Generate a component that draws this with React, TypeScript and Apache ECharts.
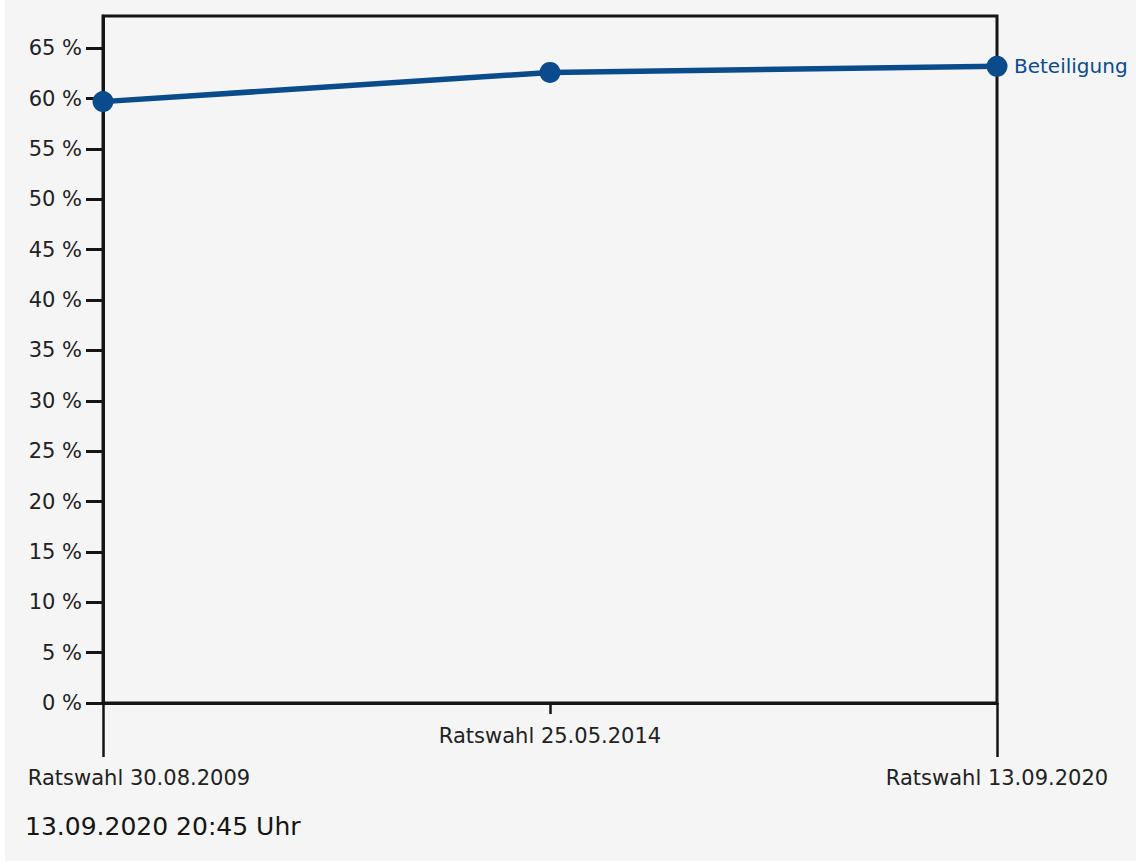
import React, { useEffect, useRef } from "react";
import * as echarts from "echarts";

const categories = ["Ratswahl 30.08.2009", "Ratswahl 25.05.2014", "Ratswahl 13.09.2020"];
const seriesName = "Beteiligung";
const turnout = [59.7, 62.6, 63.2];
const yTicks = [0, 5, 10, 15, 20, 25, 30, 35, 40, 45, 50, 55, 60, 65];
const footer = "13.09.2020 20:45 Uhr";

const FONT = "DejaVu Sans";
const BLUE = "#0a4b8c";

export default function App() {
  const ref = useRef<HTMLDivElement>(null);
  useEffect(() => {
    const chart = echarts.init(ref.current!, null, { renderer: "svg" });
    chart.setOption({
      animation: false,
      backgroundColor: "#ffffff",
      graphic: [
        {
          type: "rect",
          z: -10,
          silent: true,
          shape: { x: 5, y: 0, width: 1131, height: 861 },
          style: { fill: "#f5f5f5" },
        },
        {
          type: "text",
          left: 25,
          top: 814,
          style: { text: footer, fontFamily: FONT, fontSize: 25, fill: "#151515" },
        },
      ],
      grid: {
        left: 103,
        right: 139,
        top: 16,
        bottom: 163,
        show: true,
        borderColor: "#151515",
        borderWidth: 3,
        backgroundColor: "transparent",
      },
      xAxis: [
        {
          type: "category",
          data: categories,
          boundaryGap: false,
          axisLine: { show: true, lineStyle: { color: "#151515", width: 3 } },
          axisTick: {
            show: true,
            length: 11,
            lineStyle: { color: "#151515", width: 2.5 },
            interval: (i: number) => i === 1,
          },
          axisLabel: {
            interval: (i: number) => i === 1,
            margin: 22,
            fontFamily: FONT,
            fontSize: 21,
            color: "#222",
          },
        },
        {
          type: "category",
          data: categories,
          boundaryGap: false,
          position: "bottom",
          axisLine: { show: false },
          axisTick: {
            show: true,
            length: 54,
            lineStyle: { color: "#151515", width: 2.5 },
            interval: (i: number) => i !== 1,
          },
          axisLabel: {
            interval: (i: number) => i !== 1,
            margin: 64,
            fontFamily: FONT,
            fontSize: 21,
            color: "#222",
            formatter: (v: string, i: number) => (i === 0 ? `{first|${v}}` : `{n|${v}}`),
            rich: {
              first: { padding: [0, 0, 0, 72], fontFamily: FONT, fontSize: 21, color: "#222" },
              n: { fontFamily: FONT, fontSize: 21, color: "#222" },
            },
          },
        },
      ],
      yAxis: {
        type: "value",
        min: 0,
        max: 68.2,
        splitLine: { show: false },
        axisLine: { show: true, lineStyle: { color: "#151515", width: 3 } },
        axisTick: {
          show: true,
          length: 17,
          lineStyle: { color: "#151515", width: 3 },
          customValues: yTicks,
        },
        axisLabel: {
          customValues: yTicks,
          margin: 21,
          fontFamily: FONT,
          fontSize: 21,
          color: "#222",
          formatter: (v: number) => `${v} %`,
        },
      },
      series: [
        {
          name: seriesName,
          type: "line",
          xAxisIndex: 0,
          data: turnout,
          symbol: "circle",
          symbolSize: 21,
          lineStyle: { color: BLUE, width: 5.5 },
          itemStyle: { color: BLUE },
          endLabel: {
            show: true,
            formatter: "{a}",
            distance: 17,
            fontFamily: FONT,
            fontSize: 20,
            color: BLUE,
          },
        },
      ],
    });
    return () => chart.dispose();
  }, []);
  return (
    <div
      ref={ref}
      style={{ position: "absolute", left: 0, top: 0, width: 1136, height: 866 }}
    />
  );
}
